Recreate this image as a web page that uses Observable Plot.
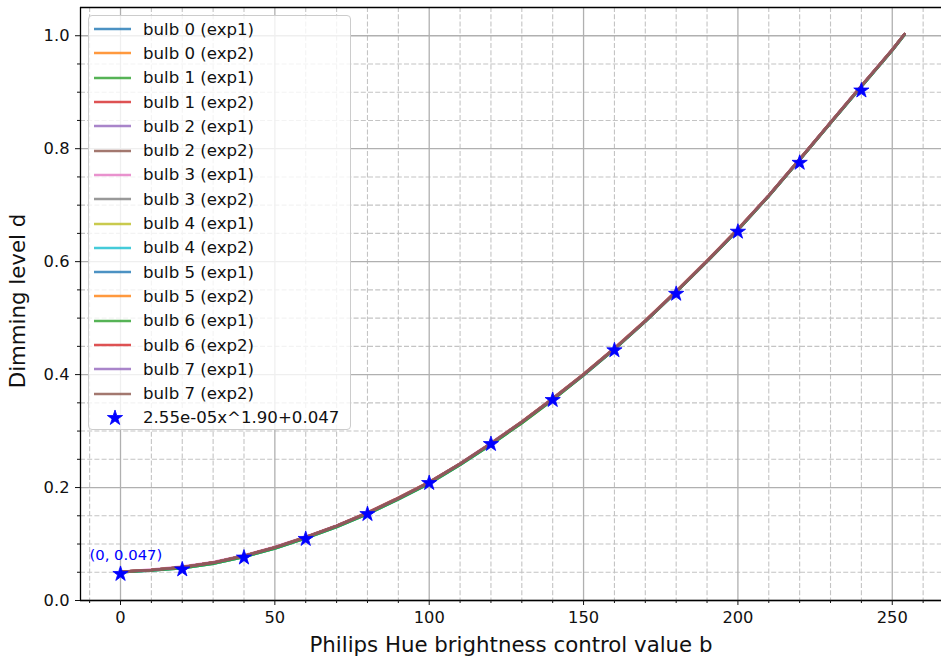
<!DOCTYPE html>
<html>
<head>
<meta charset="utf-8">
<script src="https://cdn.jsdelivr.net/npm/d3@7"></script>
<script src="https://cdn.jsdelivr.net/npm/@observablehq/plot@0.6"></script>
<style>
  body { margin: 0; background: #fff; overflow: hidden; font-family: "DejaVu Sans", sans-serif; }
  #wrap { position: relative; width: 941px; height: 660px; }
  #legend { position: absolute; left: 88px; top: 15px; width: 263px; height: 415px;
            background: rgba(255,255,255,0.8); border: 1px solid #cccccc; border-radius: 4px;
            box-sizing: border-box; padding-top: 1px; }
  .row { height: 24.3px; display: flex; align-items: center; font-size: 16.6px; color: #111; white-space: nowrap; }
  .row svg { margin-left: 4px; margin-right: 12px; flex: none; }
</style>
</head>
<body>
<div id="wrap"><div id="chart"></div><div id="legend"></div></div>
<script>
// ---- data ----
const xValues = [0,10,20,30,40,50,60,70,80,90,100,110,120,130,140,150,160,170,180,190,200,210,220,230,240,250,254];

const bulb0_exp1 = [0.051,0.054,0.059,0.067,0.079,0.094,0.112,0.132,0.155,0.181,0.209,0.242,0.278,0.316,0.357,0.400,0.446,0.495,0.547,0.601,0.657,0.717,0.781,0.846,0.911,0.975,1.003];
const bulb0_exp2 = [0.051,0.054,0.059,0.067,0.079,0.094,0.112,0.132,0.156,0.182,0.210,0.242,0.278,0.317,0.358,0.401,0.447,0.496,0.548,0.602,0.658,0.717,0.781,0.846,0.911,0.975,1.003];
const bulb1_exp1 = [0.050,0.053,0.057,0.065,0.077,0.092,0.110,0.130,0.153,0.179,0.207,0.240,0.276,0.314,0.355,0.399,0.445,0.494,0.546,0.600,0.656,0.716,0.780,0.845,0.910,0.974,1.002];
const bulb1_exp2 = [0.051,0.054,0.059,0.067,0.079,0.094,0.112,0.132,0.155,0.181,0.209,0.242,0.278,0.316,0.357,0.400,0.446,0.495,0.547,0.601,0.657,0.717,0.781,0.846,0.911,0.975,1.003];
const bulb2_exp1 = [0.050,0.053,0.058,0.066,0.078,0.093,0.111,0.131,0.154,0.180,0.208,0.241,0.277,0.315,0.356,0.399,0.445,0.494,0.546,0.600,0.656,0.716,0.780,0.845,0.910,0.974,1.002];
const bulb2_exp2 = [0.051,0.054,0.059,0.067,0.079,0.094,0.112,0.132,0.155,0.181,0.209,0.242,0.278,0.316,0.357,0.400,0.446,0.495,0.547,0.601,0.657,0.717,0.781,0.846,0.911,0.975,1.003];
const bulb3_exp1 = [0.051,0.055,0.060,0.068,0.080,0.095,0.113,0.133,0.156,0.182,0.210,0.243,0.279,0.317,0.358,0.401,0.447,0.496,0.548,0.602,0.658,0.718,0.782,0.847,0.912,0.976,1.003];
const bulb3_exp2 = [0.051,0.054,0.059,0.067,0.079,0.094,0.112,0.132,0.155,0.181,0.209,0.242,0.278,0.316,0.357,0.400,0.446,0.495,0.547,0.601,0.657,0.717,0.781,0.846,0.911,0.975,1.003];
const bulb4_exp1 = [0.051,0.054,0.059,0.067,0.079,0.094,0.112,0.132,0.155,0.181,0.209,0.242,0.278,0.316,0.357,0.400,0.446,0.495,0.547,0.601,0.657,0.717,0.781,0.846,0.911,0.975,1.003];
const bulb4_exp2 = [0.050,0.053,0.057,0.065,0.077,0.092,0.110,0.130,0.153,0.179,0.207,0.240,0.276,0.315,0.356,0.399,0.445,0.494,0.546,0.600,0.656,0.716,0.780,0.845,0.910,0.974,1.002];
const bulb5_exp1 = [0.051,0.054,0.059,0.067,0.079,0.094,0.112,0.132,0.155,0.181,0.209,0.242,0.278,0.316,0.357,0.400,0.446,0.495,0.547,0.601,0.657,0.717,0.781,0.846,0.911,0.975,1.003];
const bulb5_exp2 = [0.051,0.054,0.059,0.067,0.079,0.094,0.112,0.132,0.155,0.181,0.209,0.242,0.278,0.316,0.357,0.400,0.446,0.495,0.547,0.601,0.657,0.717,0.781,0.846,0.911,0.975,1.003];
const bulb6_exp1 = [0.050,0.053,0.057,0.065,0.077,0.092,0.110,0.130,0.153,0.179,0.207,0.240,0.276,0.314,0.355,0.399,0.445,0.494,0.546,0.600,0.656,0.716,0.780,0.845,0.910,0.974,1.002];
const bulb6_exp2 = [0.051,0.054,0.059,0.067,0.079,0.094,0.112,0.132,0.155,0.181,0.209,0.242,0.278,0.316,0.357,0.400,0.446,0.495,0.547,0.601,0.657,0.717,0.781,0.846,0.911,0.975,1.003];
const bulb7_exp1 = [0.051,0.054,0.059,0.067,0.079,0.094,0.112,0.132,0.155,0.181,0.209,0.242,0.278,0.316,0.357,0.400,0.446,0.495,0.547,0.601,0.657,0.717,0.781,0.846,0.911,0.975,1.003];
const bulb7_exp2 = [0.051,0.054,0.059,0.067,0.079,0.094,0.112,0.132,0.155,0.181,0.209,0.242,0.278,0.316,0.357,0.400,0.446,0.495,0.547,0.601,0.657,0.717,0.781,0.846,0.911,0.975,1.003];

const seriesNames = ["bulb 0 (exp1)","bulb 0 (exp2)","bulb 1 (exp1)","bulb 1 (exp2)","bulb 2 (exp1)","bulb 2 (exp2)","bulb 3 (exp1)","bulb 3 (exp2)","bulb 4 (exp1)","bulb 4 (exp2)","bulb 5 (exp1)","bulb 5 (exp2)","bulb 6 (exp1)","bulb 6 (exp2)","bulb 7 (exp1)","bulb 7 (exp2)"];
const seriesValues = [bulb0_exp1,bulb0_exp2,bulb1_exp1,bulb1_exp2,bulb2_exp1,bulb2_exp2,bulb3_exp1,bulb3_exp2,bulb4_exp1,bulb4_exp2,bulb5_exp1,bulb5_exp2,bulb6_exp1,bulb6_exp2,bulb7_exp1,bulb7_exp2];
const seriesColors = ["#1f77b4","#ff7f0e","#2ca02c","#d62728","#9467bd","#8c564b","#e377c2","#7f7f7f","#bcbd22","#17becf","#1f77b4","#ff7f0e","#2ca02c","#d62728","#9467bd","#8c564b"];

const fitX = [0,20,40,60,80,100,120,140,160,180,200,220,240];
const fitY = [0.047,0.055,0.076,0.109,0.153,0.208,0.277,0.355,0.443,0.543,0.653,0.775,0.903];
const fitLabel = "2.55e-05x^1.90+0.047";

const annotX = [0];
const annotY = [0.047];
const annotText = ["(0, 0.047)"];

const xLimits = [-12.96, 265.95];
const yLimits = [0, 1.05];
const xMajorTicks = [0,50,100,150,200,250];
const xMinorTicks = [-10,10,20,30,40,60,70,80,90,110,120,130,140,160,170,180,190,210,220,230,240,260];
const yMajorTicks = [0,0.2,0.4,0.6,0.8,1.0];
const yMinorTicks = [0.05,0.1,0.15,0.25,0.3,0.35,0.45,0.5,0.55,0.65,0.7,0.75,0.85,0.9,0.95];
const xLabel = "Philips Hue brightness control value b";
const yLabel = "Dimming level d";

// ---- chart ----
const lineWidth = 2.6, lineOpacity = 0.8, starR = 4.8;
const lineMarks = seriesNames.map((name, k) =>
  Plot.line(xValues.map((x, i) => ({x, y: seriesValues[k][i]})),
    {x: "x", y: "y", stroke: seriesColors[k], strokeWidth: lineWidth, strokeOpacity: lineOpacity})
);
const fitData = fitX.map((x, i) => ({x, y: fitY[i]}));
const annotData = annotX.map((x, i) => ({x, y: annotY[i], t: annotText[i]}));

const chart = Plot.plot({
  width: 941, height: 660,
  marginLeft: 80, marginRight: 0, marginTop: 7, marginBottom: 60,
  style: {fontFamily: "DejaVu Sans, sans-serif", background: "white", overflow: "visible"},
  x: {domain: xLimits},
  y: {domain: yLimits},
  marks: [
    Plot.gridX(xMinorTicks, {stroke: "#c4c4c4", strokeOpacity: 1, strokeWidth: 1.1, strokeDasharray: "5,2.2"}),
    Plot.gridY(yMinorTicks, {stroke: "#c4c4c4", strokeOpacity: 1, strokeWidth: 1.1, strokeDasharray: "5,2.2"}),
    Plot.gridX(xMajorTicks, {stroke: "#b0b0b0", strokeOpacity: 1, strokeWidth: 1.3}),
    Plot.gridY(yMajorTicks, {stroke: "#b0b0b0", strokeOpacity: 1, strokeWidth: 1.3}),
    ...lineMarks,
    Plot.dot(fitData, {x: "x", y: "y", symbol: "star", r: starR, fill: "blue", stroke: "blue", strokeWidth: 0.8}),
    Plot.text(annotData, {x: "x", y: "y", text: "t", fill: "blue", fontSize: 14.8, textAnchor: "start", dx: -31, dy: -18.5}),
    Plot.ruleX([xLimits[0]], {stroke: "#000", strokeWidth: 1.3}),
    Plot.ruleY([yLimits[0]], {stroke: "#000", strokeWidth: 1.3}),
    Plot.ruleY([yLimits[1]], {stroke: "#000", strokeWidth: 1.3}),
    Plot.axisX(xMajorTicks, {tickSize: 5, tickPadding: 6, fontSize: 16.3, tickFormat: d3.format("d"), label: null, color: "#111"}),
    Plot.axisX(xMinorTicks, {tickSize: 3, tickFormat: () => "", label: null, color: "#111"}),
    Plot.axisY(yMajorTicks, {tickSize: 5, tickPadding: 6, fontSize: 16.3, tickFormat: d3.format(".1f"), label: null, color: "#111"}),
    Plot.axisY(yMinorTicks, {tickSize: 3, tickFormat: () => "", label: null, color: "#111"}),
    Plot.text([xLabel], {frameAnchor: "bottom", text: d => d, lineAnchor: "middle", textAnchor: "middle", dy: 45, fontSize: 21.3, fill: "#111"}),
    Plot.text([yLabel], {frameAnchor: "left", text: d => d, lineAnchor: "middle", textAnchor: "middle", dx: -62, dy: -3, rotate: -90, fontSize: 21.3, fill: "#111"})
  ]
});
document.getElementById("chart").appendChild(chart);

// ---- legend (overlay, like matplotlib's in-axes legend) ----
const legend = d3.select("#legend");
seriesNames.forEach((name, k) => {
  const row = legend.append("div").attr("class", "row");
  const sv = row.append("svg").attr("width", 38).attr("height", 24);
  sv.append("line").attr("x1", 1).attr("x2", 38).attr("y1", 12).attr("y2", 12)
    .attr("stroke", seriesColors[k]).attr("stroke-width", lineWidth).attr("stroke-opacity", lineOpacity);
  row.append("span").text(name);
});
{
  const row = legend.append("div").attr("class", "row");
  const sv = row.append("svg").attr("width", 38).attr("height", 24);
  sv.append("path").attr("transform", "translate(22,12)")
    .attr("d", d3.symbol(d3.symbolStar, Math.PI * starR * starR)())
    .attr("fill", "blue").attr("stroke", "blue").attr("stroke-width", 0.8);
  row.append("span").text(fitLabel);
}
</script>
</body>
</html>
